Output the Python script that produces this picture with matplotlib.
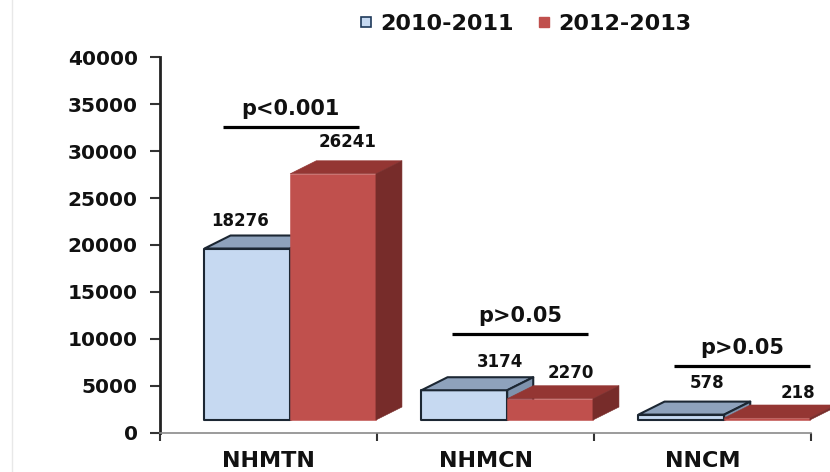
import numpy as np
import matplotlib
matplotlib.use('Agg')
import matplotlib.pyplot as plt
from matplotlib.patches import Polygon
from matplotlib.lines import Line2D

# data
categories = ['NHMTN', 'NHMCN', 'NNCM']
series = ['2010-2011', '2012-2013']
counts_1011 = [18276, 3174, 578]
counts_1213 = [26241, 2270, 218]
p_labels = ['p<0.001', 'p>0.05', 'p>0.05']
p_line_y = [32570, 10520, 7110]
y_ticks = [0, 5000, 10000, 15000, 20000, 25000, 30000, 35000, 40000]

# layout of the fake-3d bars (data units)
base = 1350          # front face sits a bit above the axis
dx, dy = 0.12, 1385  # depth offset of the back faces
x_off, w = 0.205, 0.395
p_x0 = [0.29, 0.346, 0.369]
p_len = 0.625
# label offsets (pixels) from the front-top centre of each bar
lab_off_1011 = [(-7, 27.5), (35.5, 28), (26, 31.5)]
lab_off_1213 = [(14.5, 32), (20.5, 25.5), (31, 24.5)]

blue = dict(front='#C6D9F1', top='#8EA2BC', side='#7F93AD', edge='#1C2733')
red = dict(front='#C0504D', top='#943633', side='#772C2A', edge=None)

plt.rcParams['font.family'] = ['DejaVu Sans']
plt.rcParams['font.weight'] = 'bold'
plt.rcParams['text.color'] = '#111111'

fig = plt.figure(figsize=(8.3, 4.72), dpi=100)
ax = fig.add_axes([160 / 830, 39.3 / 472, 651 / 830, 375.4 / 472])
ax.set_xlim(0, 3)
ax.set_ylim(0, 40000)


def bar3d(x0, h, st):
    x1 = x0 + w
    y0, y1 = base, base + h
    faces = [
        ([(x0, y0), (x1, y0), (x1, y1), (x0, y1)], st['front']),
        ([(x0, y1), (x1, y1), (x1 + dx, y1 + dy), (x0 + dx, y1 + dy)], st['top']),
        ([(x1, y0), (x1 + dx, y0 + dy), (x1 + dx, y1 + dy), (x1, y1)], st['side']),
    ]
    for pts, c in faces:
        ec = st['edge'] if st['edge'] else c
        ax.add_patch(Polygon(pts, closed=True, facecolor=c, edgecolor=ec,
                             lw=1.5 if st['edge'] else 0.4,
                             joinstyle='round', clip_on=False))


for i in range(len(categories)):
    xb = i + x_off
    xr = xb + w
    bar3d(xb, counts_1011[i], blue)
    bar3d(xr, counts_1213[i], red)
    for xx, v, off in [(xb, counts_1011[i], lab_off_1011[i]),
                       (xr, counts_1213[i], lab_off_1213[i])]:
        ax.annotate(str(v), xy=(xx + w / 2, base + v), xytext=off,
                    textcoords='offset pixels', ha='center', va='center',
                    fontsize=12, annotation_clip=False)
    # significance bar
    x0 = i + p_x0[i]
    ax.plot([x0, x0 + p_len], [p_line_y[i]] * 2, color='black', lw=2.3,
            solid_capstyle='butt', clip_on=False)
    ax.annotate(p_labels[i], xy=(x0 + p_len / 2, p_line_y[i]), xytext=(0, 18),
                textcoords='offset pixels', ha='center', va='center',
                fontsize=15, annotation_clip=False)

# axes styling
for s in ['top', 'right']:
    ax.spines[s].set_visible(False)
ax.spines['left'].set_linewidth(2)
ax.spines['left'].set_color('#222222')
ax.spines['bottom'].set_linewidth(1.2)
ax.spines['bottom'].set_color('#8a8a8a')

ax.set_yticks(y_ticks)
ax.set_yticklabels([str(t) for t in y_ticks])
ax.tick_params(axis='y', direction='out', length=7, width=1.5,
               color='#333333', pad=9, labelsize=14.5, labelcolor='#111111')
ax.set_xticks([0.5, 1.5, 2.5])
ax.set_xticklabels(categories, fontsize=16)
ax.set_xticks([0, 1, 2, 3], minor=True)
ax.tick_params(axis='x', which='major', length=0, pad=13, labelcolor='#111111')
ax.tick_params(axis='x', which='minor', direction='out', length=6,
               width=1.5, color='#333333')

# legend
handles = [
    Line2D([], [], ls='', marker='s', ms=7.5, mfc=blue['front'],
           mec='#1F3A5A', mew=1.2),
    Line2D([], [], ls='', marker='s', ms=7.5, mfc=red['front'],
           mec=red['front']),
]
fig.legend(handles, series, loc='center left',
           bbox_to_anchor=(358 / 830, 1 - 24 / 472), ncol=2, frameon=False,
           fontsize=16, handlelength=0.7, handletextpad=0.3,
           columnspacing=1.0, borderpad=0, borderaxespad=0)

# faint slide border on the left
fig.add_artist(Line2D([12 / 830] * 2, [0, 1], transform=fig.transFigure,
                      color='#e8e8e8', lw=1))

fig.savefig('out.png', dpi=100)
